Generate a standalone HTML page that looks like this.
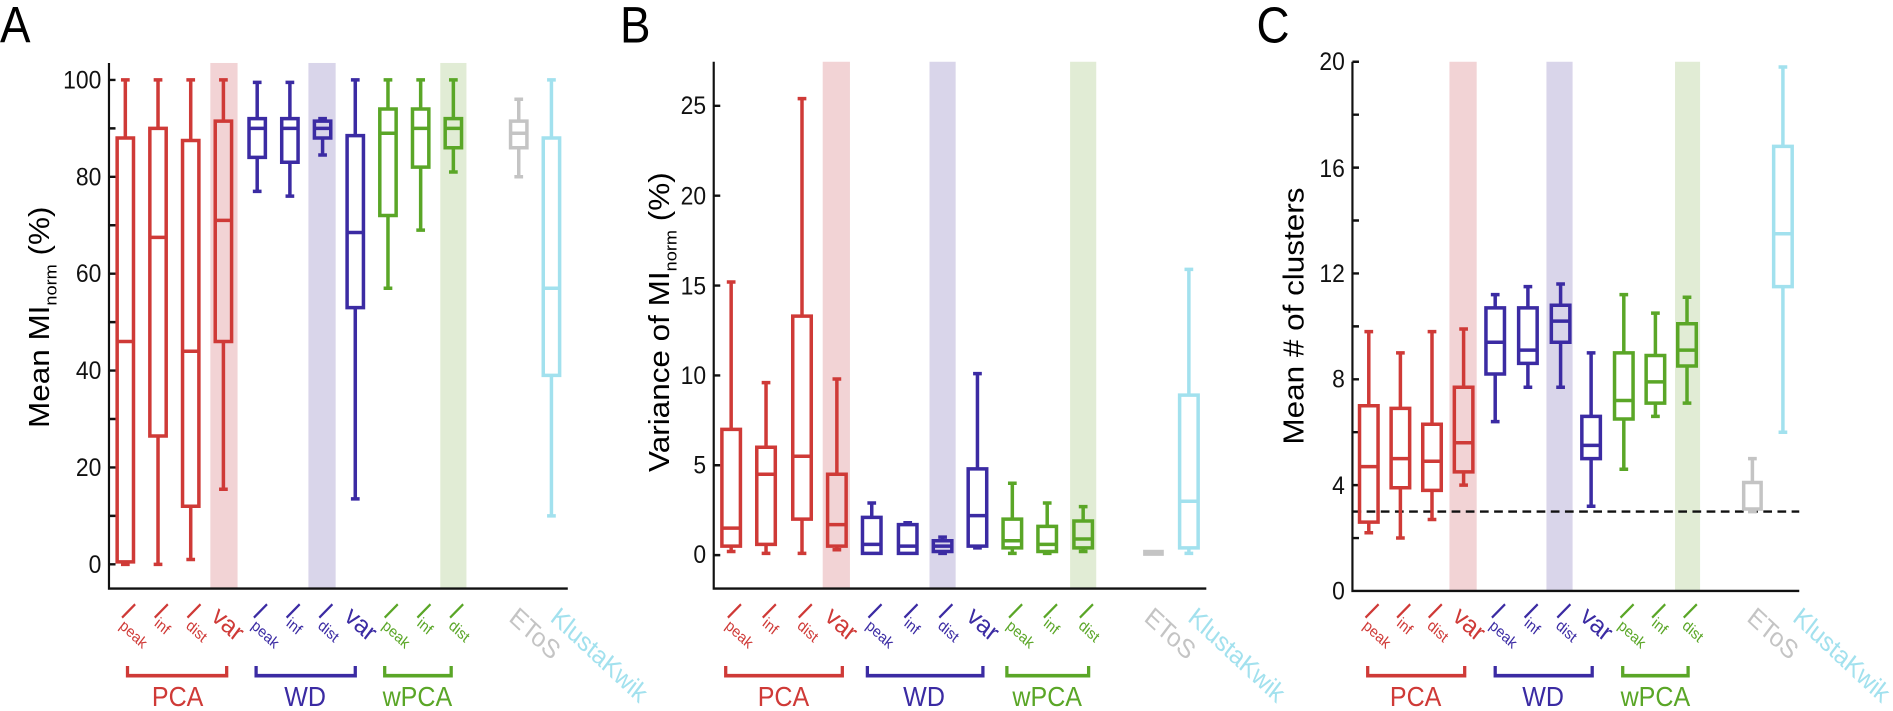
<!DOCTYPE html>
<html><head><meta charset="utf-8"><style>
html,body{margin:0;padding:0;background:#fff}
svg{display:block;font-family:"Liberation Sans",Arial,sans-serif}
.bx path{fill:none;stroke-width:3.5;vector-effect:non-scaling-stroke;stroke-linejoin:miter}
.r{stroke:#cf3a37}.u{stroke:#3b2ba3}.g{stroke:#5aa627}.k{stroke:#c4c4c4}.c{stroke:#a2e1ee}
.ax{stroke:#111;stroke-width:2;fill:none}
.tl{font-size:21px;fill:#111;text-anchor:end}
.sl{font-size:13px}
.vl{font-size:22px}
.gl{font-size:23px;text-anchor:middle}
.fr{fill:#cf3a37}.fu{fill:#3b2ba3}.fg{fill:#5aa627}.fk{fill:#c4c4c4}.fc{fill:#a2e1ee}
.tk{stroke-width:2}
.br{fill:none;stroke-width:3}
</style></head><body>
<svg width="1893" height="711" viewBox="0 0 1893 711" xmlns="http://www.w3.org/2000/svg">

<!-- ================= PANEL A ================= -->
<g transform="scale(1.0898,1.211)">
<text x="0" y="35" font-size="42">A</text>
<rect x="193" y="52" width="25" height="434" fill="#f2d3d5"/>
<rect x="283" y="52" width="25" height="434" fill="#d9d5ea"/>
<rect x="404" y="52" width="24" height="434" fill="#e1ecd5"/>
<path class="ax" d="M100 52V486H521"/>
<path class="ax" d="M100 466H106M100 426H106M100 386H106M100 346H106M100 306H106M100 266H106M100 226H106M100 186H106M100 146H106M100 106H106M100 66H106"/>
<g class="tl"><text x="93" y="473">0</text><text x="93" y="393">20</text><text x="93" y="313">40</text><text x="93" y="233">60</text><text x="93" y="153">80</text><text x="93" y="73">100</text></g>
<text transform="translate(45,262) rotate(-90)" font-size="26" text-anchor="middle">Mean MI<tspan font-size="15" dy="7">norm</tspan><tspan dy="-7"> (%)</tspan></text>
<g class="bx" transform="translate(0,466) scale(1,-4)">
<path class="r" d="M115 0V0.5M115 88V100M111 0H119M111 100H119M107.5 0.5H122.5V88H107.5ZM107.5 46H122.5"/>
<path class="r" d="M145 0V26.5M145 90V100M141 0H149M141 100H149M137.5 26.5H152.5V90H137.5ZM137.5 67.5H152.5"/>
<path class="r" d="M175 1V12M175 87.5V100M171 1H179M171 100H179M167.5 12H182.5V87.5H167.5ZM167.5 44H182.5"/>
<path class="r" d="M205 15.5V46M205 91.5V100M201 15.5H209M201 100H209M197.5 46H212.5V91.5H197.5ZM197.5 71H212.5"/>
<path class="u" d="M236 77V84M236 92V99.5M232 77H240M232 99.5H240M228.5 84H243.5V92H228.5ZM228.5 90H243.5"/>
<path class="u" d="M266 76V83M266 92V99.5M262 76H270M262 99.5H270M258.5 83H273.5V92H258.5ZM258.5 90H273.5"/>
<path class="u" d="M296 84.5V88M296 91.5V92M292 84.5H300M292 92H300M288.5 88H303.5V91.5H288.5ZM288.5 90H303.5"/>
<path class="u" d="M326 13.5V53M326 88.5V100M322 13.5H330M322 100H330M318.5 53H333.5V88.5H318.5ZM318.5 68.5H333.5"/>
<path class="g" d="M356 57V72M356 94V100M352 57H360M352 100H360M348.5 72H363.5V94H348.5ZM348.5 89H363.5"/>
<path class="g" d="M386 69V82M386 94V100M382 69H390M382 100H390M378.5 82H393.5V94H378.5ZM378.5 90H393.5"/>
<path class="g" d="M416 81V86M416 92V100M412 81H420M412 100H420M408.5 86H423.5V92H408.5ZM408.5 90H423.5"/>
<path class="k" d="M476 80V86M476 91.5V96M472 80H480M472 96H480M468.5 86H483.5V91.5H468.5ZM468.5 89H483.5"/>
<path class="c" d="M506 10V39M506 88V100M502 10H510M502 100H510M498.5 39H513.5V88H498.5ZM498.5 57H513.5"/>
</g>
<g class="tk"><path class="r" d="M112 510L124 499M142 510L154 499M172 510L184 499"/><path class="u" d="M233 510L245 499M263 510L275 499M293 510L305 499"/><path class="g" d="M353 510L365 499M383 510L395 499M413 510L425 499"/></g>
<g class="sl">
<text class="fr" transform="translate(109,518) rotate(40)">peak</text><text class="fr" transform="translate(141,516) rotate(40)">inf</text><text class="fr" transform="translate(170,518) rotate(40)">dist</text>
<text class="fu" transform="translate(230,518) rotate(40)">peak</text><text class="fu" transform="translate(262,516) rotate(40)">inf</text><text class="fu" transform="translate(291,518) rotate(40)">dist</text>
<text class="fg" transform="translate(350,518) rotate(40)">peak</text><text class="fg" transform="translate(382,516) rotate(40)">inf</text><text class="fg" transform="translate(411,518) rotate(40)">dist</text>
</g>
<text class="vl fr" transform="translate(193,511) rotate(40)">var</text>
<text class="vl fu" transform="translate(315,511) rotate(40)">var</text>
<text class="vl fk" transform="translate(466,512) rotate(40)">EToS</text>
<text class="vl fc" transform="translate(504,512) rotate(40)">KlustaKwik</text>
<path class="br r" d="M117 550V558H208V550"/><path class="br u" d="M235 550V558H326V550"/><path class="br g" d="M353 550V558H414V550"/>
<text class="gl fr" x="163" y="583">PCA</text><text class="gl fu" x="280" y="583">WD</text><text class="gl fg" x="383" y="583">wPCA</text>
</g>

<!-- ================= PANEL B ================= -->
<g transform="translate(620,0) scale(1.0898,1.211) translate(-620,0)">
<text x="620" y="35" font-size="42">B</text>
<rect x="806" y="51" width="25" height="435" fill="#f2d3d5"/>
<rect x="904" y="51" width="24" height="435" fill="#d9d5ea"/>
<rect x="1033" y="51" width="24" height="435" fill="#e1ecd5"/>
<path class="ax" d="M706 51V486H1158"/>
<path class="ax" d="M706 458.4H712M706 384.2H712M706 310H712M706 235.8H712M706 161.6H712M706 87.4H712"/>
<g class="tl"><text x="699" y="465">0</text><text x="699" y="391">5</text><text x="699" y="317">10</text><text x="699" y="243">15</text><text x="699" y="169">20</text><text x="699" y="94">25</text></g>
<text transform="translate(665,266) rotate(-90)" font-size="26" text-anchor="middle">Variance of MI<tspan font-size="15" dy="7">norm</tspan><tspan dy="-7"> (%)</tspan></text>
<g class="bx" transform="translate(0,458.4) scale(1,-14.84)">
<path class="r" d="M722 0.2V0.5M722 7V15.2M718 0.2H726M718 15.2H726M713.5 0.5H730.5V7H713.5ZM713.5 1.5H730.5"/>
<path class="r" d="M754 0.1V0.6M754 6V9.6M750 0.1H758M750 9.6H758M745.5 0.6H762.5V6H745.5ZM745.5 4.5H762.5"/>
<path class="r" d="M787 0.1V2M787 13.3V25.4M783 0.1H791M783 25.4H791M778.5 2H795.5V13.3H778.5ZM778.5 5.5H795.5"/>
<path class="r" d="M819 0.3V0.5M819 4.5V9.8M815 0.3H823M815 9.8H823M810.5 0.5H827.5V4.5H810.5ZM810.5 1.7H827.5"/>
<path class="u" d="M851 2.1V2.9M847 0.1H855M847 2.9H855M842.5 0.1H859.5V2.1H842.5ZM842.5 0.6H859.5"/>
<path class="u" d="M884 1.7V1.8M880 0.1H888M880 1.8H888M875.5 0.1H892.5V1.7H875.5ZM875.5 0.5H892.5"/>
<path class="u" d="M916 0.8V1M912 0.1H920M912 1H920M907.5 0.2H924.5V0.8H907.5ZM907.5 0.5H924.5"/>
<path class="u" d="M948 0.4V0.5M948 4.8V10.1M944 0.4H952M944 10.1H952M939.5 0.5H956.5V4.8H939.5ZM939.5 2.2H956.5"/>
<path class="g" d="M980 0.1V0.4M980 2V4M976 0.1H984M976 4H984M971.5 0.4H988.5V2H971.5ZM971.5 0.8H988.5"/>
<path class="g" d="M1012 0.1V0.2M1012 1.6V2.9M1008 0.1H1016M1008 2.9H1016M1003.5 0.2H1020.5V1.6H1003.5ZM1003.5 0.6H1020.5"/>
<path class="g" d="M1045 0.2V0.4M1045 1.9V2.7M1041 0.2H1049M1041 2.7H1049M1036.5 0.4H1053.5V1.9H1036.5ZM1036.5 0.9H1053.5"/>
<path class="c" d="M1142 0.1V0.4M1142 8.9V15.9M1138 0.1H1146M1138 15.9H1146M1133.5 0.4H1150.5V8.9H1133.5ZM1133.5 3H1150.5"/>
</g>
<rect x="1100" y="454" width="19" height="5" fill="#c4c4c4"/>
<g class="tk"><path class="r" d="M719 510L731 499M751 510L763 499M784 510L796 499"/><path class="u" d="M848 510L860 499M881 510L893 499M913 510L925 499"/><path class="g" d="M977 510L989 499M1009 510L1021 499M1042 510L1054 499"/></g>
<g class="sl">
<text class="fr" transform="translate(716,518) rotate(40)">peak</text><text class="fr" transform="translate(750,516) rotate(40)">inf</text><text class="fr" transform="translate(782,518) rotate(40)">dist</text>
<text class="fu" transform="translate(845,518) rotate(40)">peak</text><text class="fu" transform="translate(880,516) rotate(40)">inf</text><text class="fu" transform="translate(911,518) rotate(40)">dist</text>
<text class="fg" transform="translate(974,518) rotate(40)">peak</text><text class="fg" transform="translate(1008,516) rotate(40)">inf</text><text class="fg" transform="translate(1040,518) rotate(40)">dist</text>
</g>
<text class="vl fr" transform="translate(807,511) rotate(40)">var</text>
<text class="vl fu" transform="translate(937,511) rotate(40)">var</text>
<text class="vl fk" transform="translate(1100,512) rotate(40)">EToS</text>
<text class="vl fc" transform="translate(1140,512) rotate(40)">KlustaKwik</text>
<path class="br r" d="M717 550V558H824V550"/><path class="br u" d="M847 550V558H953V550"/><path class="br g" d="M975 550V558H1050V550"/>
<text class="gl fr" x="770" y="583">PCA</text><text class="gl fu" x="899" y="583">WD</text><text class="gl fg" x="1012" y="583">wPCA</text>
</g>

<!-- ================= PANEL C ================= -->
<g transform="translate(1250,0) scale(1.0898,1.211) translate(-1250,0)">
<text x="1256" y="35" font-size="42">C</text>
<rect x="1433" y="51" width="25" height="437" fill="#f2d3d5"/>
<rect x="1522" y="51" width="24" height="437" fill="#d9d5ea"/>
<rect x="1640" y="51" width="23" height="437" fill="#e1ecd5"/>
<path class="ax" d="M1344 51V488H1754"/>
<path class="ax" d="M1344 444.3H1350M1344 400.6H1350M1344 356.9H1350M1344 313.2H1350M1344 269.5H1350M1344 225.8H1350M1344 182.1H1350M1344 138.4H1350M1344 94.7H1350M1344 51H1350"/>
<g class="tl"><text x="1337" y="495">0</text><text x="1337" y="408">4</text><text x="1337" y="320">8</text><text x="1337" y="233">12</text><text x="1337" y="146">16</text><text x="1337" y="58">20</text></g>
<text transform="translate(1299,261) rotate(-90)" font-size="26" text-anchor="middle">Mean # of clusters</text>
<path d="M1344 422.4H1754" stroke="#111" stroke-width="2" stroke-dasharray="8 5"/>
<g class="bx" transform="translate(0,488) scale(1,-21.85)">
<path class="r" d="M1359 2.2V2.6M1359 7V9.8M1355 2.2H1363M1355 9.8H1363M1350.5 2.6H1367.5V7H1350.5ZM1350.5 4.7H1367.5"/>
<path class="r" d="M1388 2V3.9M1388 6.9V9M1384 2H1392M1384 9H1392M1379.5 3.9H1396.5V6.9H1379.5ZM1379.5 5H1396.5"/>
<path class="r" d="M1417 2.7V3.8M1417 6.3V9.8M1413 2.7H1421M1413 9.8H1421M1408.5 3.8H1425.5V6.3H1408.5ZM1408.5 4.9H1425.5"/>
<path class="r" d="M1446 4V4.5M1446 7.7V9.9M1442 4H1450M1442 9.9H1450M1437.5 4.5H1454.5V7.7H1437.5ZM1437.5 5.6H1454.5"/>
<path class="u" d="M1475 6.4V8.2M1475 10.7V11.2M1471 6.4H1479M1471 11.2H1479M1466.5 8.2H1483.5V10.7H1466.5ZM1466.5 9.4H1483.5"/>
<path class="u" d="M1505 7.7V8.6M1505 10.7V11.5M1501 7.7H1509M1501 11.5H1509M1496.5 8.6H1513.5V10.7H1496.5ZM1496.5 9.1H1513.5"/>
<path class="u" d="M1535 7.7V9.4M1535 10.8V11.6M1531 7.7H1539M1531 11.6H1539M1526.5 9.4H1543.5V10.8H1526.5ZM1526.5 10.2H1543.5"/>
<path class="u" d="M1563 3.2V5M1563 6.6V9M1559 3.2H1567M1559 9H1567M1554.5 5H1571.5V6.6H1554.5ZM1554.5 5.5H1571.5"/>
<path class="g" d="M1593 4.6V6.5M1593 9V11.2M1589 4.6H1597M1589 11.2H1597M1584.5 6.5H1601.5V9H1584.5ZM1584.5 7.2H1601.5"/>
<path class="g" d="M1622 6.6V7.1M1622 8.9V10.5M1618 6.6H1626M1618 10.5H1626M1613.5 7.1H1630.5V8.9H1613.5ZM1613.5 7.9H1630.5"/>
<path class="g" d="M1651 7.1V8.5M1651 10.1V11.1M1647 7.1H1655M1647 11.1H1655M1642.5 8.5H1659.5V10.1H1642.5ZM1642.5 9.1H1659.5"/>
<path class="k" d="M1711 4.1V5M1707 3H1715M1707 5H1715M1703 3.1H1719V4.1H1703ZM1703 3.1H1719"/>
<path class="c" d="M1739 6V11.5M1739 16.8V19.8M1735 6H1743M1735 19.8H1743M1730.5 11.5H1747.5V16.8H1730.5ZM1730.5 13.5H1747.5"/>
</g>
<g class="tk"><path class="r" d="M1356 510L1368 499M1385 510L1397 499M1414 510L1426 499"/><path class="u" d="M1472 510L1484 499M1502 510L1514 499M1532 510L1544 499"/><path class="g" d="M1590 510L1602 499M1619 510L1631 499M1648 510L1660 499"/></g>
<g class="sl">
<text class="fr" transform="translate(1353,518) rotate(40)">peak</text><text class="fr" transform="translate(1384,516) rotate(40)">inf</text><text class="fr" transform="translate(1412,518) rotate(40)">dist</text>
<text class="fu" transform="translate(1469,518) rotate(40)">peak</text><text class="fu" transform="translate(1501,516) rotate(40)">inf</text><text class="fu" transform="translate(1530,518) rotate(40)">dist</text>
<text class="fg" transform="translate(1587,518) rotate(40)">peak</text><text class="fg" transform="translate(1618,516) rotate(40)">inf</text><text class="fg" transform="translate(1646,518) rotate(40)">dist</text>
</g>
<text class="vl fr" transform="translate(1435,511) rotate(40)">var</text>
<text class="vl fu" transform="translate(1552,511) rotate(40)">var</text>
<text class="vl fk" transform="translate(1705,512) rotate(40)">EToS</text>
<text class="vl fc" transform="translate(1747,512) rotate(40)">KlustaKwik</text>
<path class="br r" d="M1358 550V558H1447V550"/><path class="br u" d="M1475 550V558H1564V550"/><path class="br g" d="M1592 550V558H1652V550"/>
<text class="gl fr" x="1402" y="583">PCA</text><text class="gl fu" x="1519" y="583">WD</text><text class="gl fg" x="1622" y="583">wPCA</text>
</g>
</svg>
</body></html>
